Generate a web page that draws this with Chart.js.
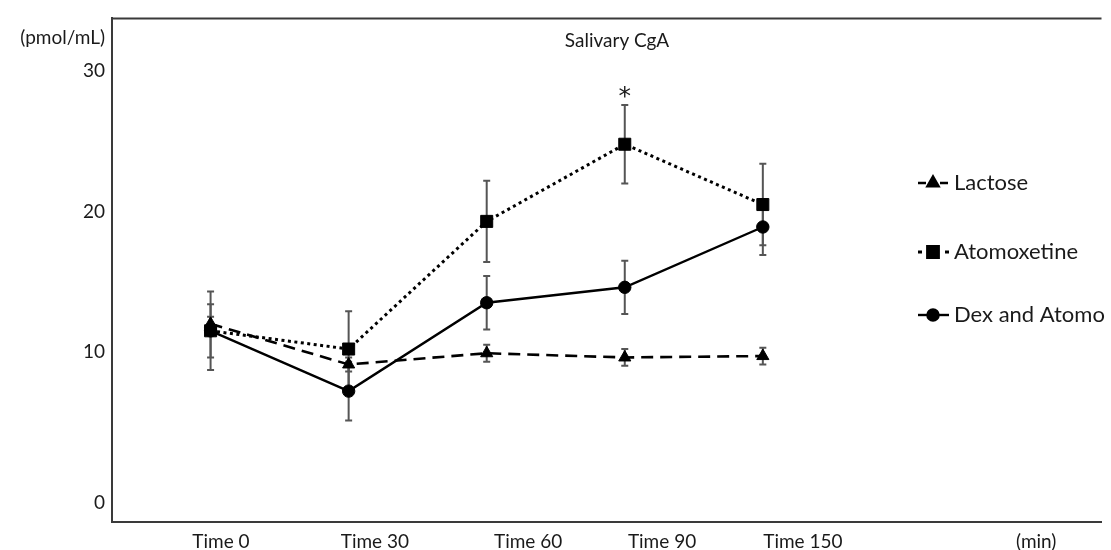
<!DOCTYPE html>
<html>
<head>
<meta charset="utf-8">
<script src="https://cdn.jsdelivr.net/npm/chart.js@4/dist/chart.umd.min.js"></script>
<style>
html,body{margin:0;padding:0;background:#fff;}
#wrap{width:1111px;height:550px;}
</style>
</head>
<body>
<div id="wrap"><canvas id="c" width="1111" height="550"></canvas></div>
<script>
// ---- data ----
const categories = ['Time 0', 'Time 30', 'Time 60', 'Time 90', 'Time 150'];
const xTickLabels = ['Time 0', 'Time 30', 'Time 60', 'Time 90', 'Time 150', '(min)'];
const yTickLabels = ['0', '10', '20', '30'];
const seriesNames = ['Lactose', 'Atomoxetine', 'Dex and Atomo'];
const lactose = [12.0, 9.1, 9.9, 9.6, 9.7];
const lactoseErr = [0.5, 0.5, 0.6, 0.6, 0.6];
const atomoxetine = [11.5, 10.2, 19.3, 24.8, 20.5];
const atomoxetineErr = [2.8, 2.7, 2.9, 2.8, 2.9];
const dexAtomo = [11.5, 7.2, 13.5, 14.6, 18.9];
const dexAtomoErr = [1.9, 2.1, 1.9, 1.9, 2.0];
const significance = ['', '', '', '*', ''];

// ---- layout (label placement, not data) ----
const xLabelPos = [0.075, 1.19, 2.30, 3.27, 4.29, 5.98];
const yLabelPos = [-0.8, 10, 20, 30];

const FONT = 'Lato, "Open Sans", sans-serif';
const TXT = '#1a1a1a';
const AXC = '#3a3a3a';

function pts(arr){ return arr.map((v,i)=>({x:i, y:v})); }

const seriesDefs = [
  {name: seriesNames[0], data: lactose, err: lactoseErr, style: 'triangle', radius: 7, dash: [12, 7], width: 2.6},
  {name: seriesNames[1], data: atomoxetine, err: atomoxetineErr, style: 'rect', radius: 8.5, dash: [3, 3.5], width: 3},
  {name: seriesNames[2], data: dexAtomo, err: dexAtomoErr, style: 'circle', radius: 6.2, dash: [], width: 2.4}
];

const errorBars = {
  id: 'errorBars',
  beforeDatasetsDraw(chart){
    const ctx = chart.ctx, xs = chart.scales.x, ys = chart.scales.y;
    ctx.save();
    ctx.strokeStyle = '#555';
    ctx.lineWidth = 2;
    seriesDefs.forEach(s => {
      s.data.forEach((v,i) => {
        const x = xs.getPixelForValue(i);
        const yt = ys.getPixelForValue(v + s.err[i]);
        const yb = ys.getPixelForValue(v - s.err[i]);
        ctx.beginPath();
        ctx.moveTo(x, yt); ctx.lineTo(x, yb);
        ctx.moveTo(x-3.5, yt); ctx.lineTo(x+3.5, yt);
        ctx.moveTo(x-3.5, yb); ctx.lineTo(x+3.5, yb);
        ctx.stroke();
      });
    });
    ctx.restore();
  }
};

const extras = {
  id: 'extras',
  afterDraw(chart){
    const ctx = chart.ctx, a = chart.chartArea, xs = chart.scales.x, ys = chart.scales.y;
    ctx.save();
    // top frame line
    ctx.strokeStyle = AXC; ctx.lineWidth = 2;
    ctx.beginPath(); ctx.moveTo(a.left, a.top); ctx.lineTo(a.right, a.top); ctx.stroke();
    // title
    ctx.fillStyle = TXT;
    ctx.font = '19px ' + FONT;
    ctx.textAlign = 'center'; ctx.textBaseline = 'middle';
    ctx.fillText('Salivary CgA', 617, 41);
    // unit label
    ctx.textAlign = 'right';
    ctx.fillText('(pmol/mL)', 105, 38);
    // significance markers
    ctx.font = '25px "DejaVu Sans", sans-serif';
    ctx.textAlign = 'center';
    ctx.textBaseline = 'alphabetic';
    significance.forEach((m,i) => {
      if(!m) return;
      const top = ys.getPixelForValue(atomoxetine[i] + atomoxetineErr[i]);
      ctx.fillText(m, xs.getPixelForValue(i), top - 1);
    });
    // legend
    const ly = [183, 252, 315];
    seriesDefs.forEach((s,k) => {
      const y = ly[k];
      ctx.strokeStyle = '#000'; ctx.lineWidth = s.width;
      ctx.setLineDash(s.dash.length ? (k===0 ? [8,14] : [4,23]) : []);
      ctx.beginPath(); ctx.moveTo(918, y); ctx.lineTo(949, y); ctx.stroke();
      ctx.setLineDash([]);
      Chart.helpers.drawPoint(ctx, {pointStyle: s.style, radius: s.radius*0.9, rotation: 0, borderWidth: 1}, 933, y);
      ctx.fillStyle = '#000';
      ctx.fill();
      ctx.fillStyle = TXT;
      ctx.font = '22px ' + FONT;
      ctx.textAlign = 'left'; ctx.textBaseline = 'middle';
      ctx.fillText(s.name, 954, y);
    });
    ctx.restore();
  }
};

new Chart(document.getElementById('c'), {
  type: 'line',
  data: {
    datasets: seriesDefs.map(s => ({
      label: s.name,
      data: pts(s.data),
      borderColor: '#000',
      backgroundColor: '#000',
      borderWidth: s.width,
      borderDash: s.dash,
      pointStyle: s.style,
      pointRadius: s.radius,
      pointBackgroundColor: '#000',
      pointBorderColor: '#000',
      pointBorderWidth: 1,
      tension: 0,
      fill: false
    }))
  },
  options: {
    responsive: false,
    devicePixelRatio: 1,
    animation: false,
    layout: {padding: {top: 15, right: 0, left: 0, bottom: 0}},
    plugins: {legend: {display: false}, tooltip: {enabled: false}, title: {display: false}},
    scales: {
      x: {
        type: 'linear',
        min: -0.714, max: 6.453,
        grid: {display: false, drawTicks: false},
        border: {display: true, color: AXC, width: 2},
        afterBuildTicks(scale){ scale.ticks = xLabelPos.map(v => ({value: v})); },
        afterFit(scale){ scale.height = 28; },
        ticks: {
          autoSkip: false, maxRotation: 0, padding: 8,
          color: TXT, font: {family: FONT, size: 19},
          callback: (v, i) => xTickLabels[i]
        }
      },
      y: {
        type: 'linear',
        min: -2.13, max: 33.77,
        grid: {display: false, drawTicks: false},
        border: {display: true, color: AXC, width: 2},
        afterBuildTicks(scale){ scale.ticks = yLabelPos.map(v => ({value: v})); },
        afterFit(scale){ scale.width = 112; },
        ticks: {
          autoSkip: false, padding: 7,
          color: TXT, font: {family: FONT, size: 19},
          callback: (v, i) => yTickLabels[i]
        }
      }
    }
  },
  plugins: [errorBars, extras]
});
</script>
</body>
</html>
